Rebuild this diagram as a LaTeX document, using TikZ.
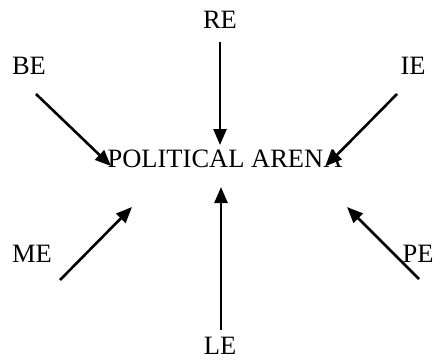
\documentclass[tikz,border=0pt]{standalone}
\usepackage{fontspec}
\setmainfont{Liberation Serif}
\usetikzlibrary{arrows.meta}
\tikzstyle{env} = [inner sep=0pt, font=\fontsize{26.5}{30}\selectfont]
\tikzstyle{push} = [line width=2.6pt, -{Triangle[length=16pt,width=13pt]}]

\begin{document}
\begin{tikzpicture}[x=1pt, y=-1pt]
    \useasboundingbox (0,0) rectangle (435,359);

    \node[env] (arena) at (225,159) {POLITICAL ARENA};
    \node[env] (re) at (220,20) {RE};
    \node[env] (be) at (29,66) {BE};
    \node[env] (ie) at (413,66) {IE};
    \node[env] (me) at (32,254) {ME};
    \node[env] (pe) at (418,254) {PE};
    \node[env] (le) at (220,346) {LE};

    % tails and tips
    \coordinate (re-t) at (220,42);  \coordinate (re-h) at (220,145);
    \coordinate (be-t) at (36,94);   \coordinate (be-h) at (111,166);
    \coordinate (ie-t) at (397,94);  \coordinate (ie-h) at (326,166);
    \coordinate (me-t) at (60,280);  \coordinate (me-h) at (132,207);
    \coordinate (pe-t) at (419,279); \coordinate (pe-h) at (347,207);
    \coordinate (le-t) at (221,330); \coordinate (le-h) at (221,187);

    \draw[push] (re-t) -- (re-h);
    \draw[push] (be-t) -- (be-h);
    \draw[push] (ie-t) -- (ie-h);
    \draw[push] (me-t) -- (me-h);
    \draw[push] (pe-t) -- (pe-h);
    \draw[push] (le-t) -- (le-h);
\end{tikzpicture}
\end{document}
